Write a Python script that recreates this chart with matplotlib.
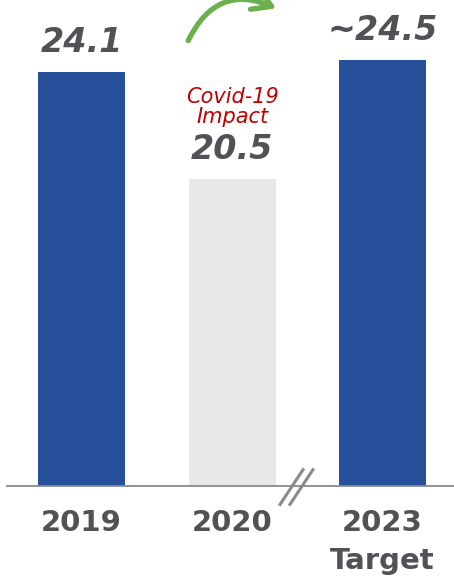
import matplotlib
matplotlib.use("Agg")
import matplotlib.pyplot as plt
from matplotlib.patches import FancyArrowPatch
from matplotlib.lines import Line2D

categories = ["2019", "2020", "2023\nTarget"]
values = [24.1, 20.5, 24.5]
value_labels = ["24.1", "20.5", "~24.5"]
bar_colors = ["#26509a", "#e8e8e8", "#26509a"]
note_text = "Covid-19\nImpact"

W, H = 454, 583
fig = plt.figure(figsize=(W / 100, H / 100), dpi=100)
ax = fig.add_axes([7 / W, (H - 486) / H, (W - 7) / W, 486 / H])

x = list(range(len(categories)))
ax.bar(x, values, width=0.578, color=bar_colors, zorder=2)
ax.set_xlim(-0.495, 2.475)
ax.set_ylim(10.17, 26.52)

for s in ["top", "right", "left"]:
    ax.spines[s].set_visible(False)
ax.spines["bottom"].set_color("#8a8a8a")
ax.spines["bottom"].set_linewidth(1.3)
ax.set_yticks([])
ax.set_xticks(x)
ax.set_xticklabels(categories, fontsize=21, fontweight="bold", color="#505256",
                   linespacing=1.45, va="top")
ax.tick_params(axis="x", length=0, pad=16.5)

txt_color = "#505256"
for xi, v, lab in zip(x, values, value_labels):
    ax.annotate(lab, (xi, v), xytext=(0, 14.4), textcoords="offset points",
                ha="center", va="baseline", fontsize=24, fontweight="heavy",
                fontstyle="italic", color=txt_color)

ax.annotate(note_text, (x[1], values[1]), xytext=(0, 40), textcoords="offset points",
            ha="center", va="baseline", fontsize=15, fontstyle="italic",
            color="#c00000", linespacing=1.05, multialignment="center")

# axis break marks
for dx in (0.0, 0.066):
    ax.add_line(Line2D([1.319 + dx, 1.472 + dx], [9.55, 10.72], color="#8a8a8a",
                       lw=2.2, clip_on=False, zorder=3))

# green arrow
arr = FancyArrowPatch((0.701, 25.07), (1.31, 26.2), connectionstyle="arc3,rad=-0.5",
                      arrowstyle="->,head_length=13,head_width=8", color="#6ab04c",
                      lw=3.8, clip_on=False, mutation_scale=1, capstyle="round",
                      joinstyle="round")
ax.add_patch(arr)

fig.savefig("out.png", dpi=100)
